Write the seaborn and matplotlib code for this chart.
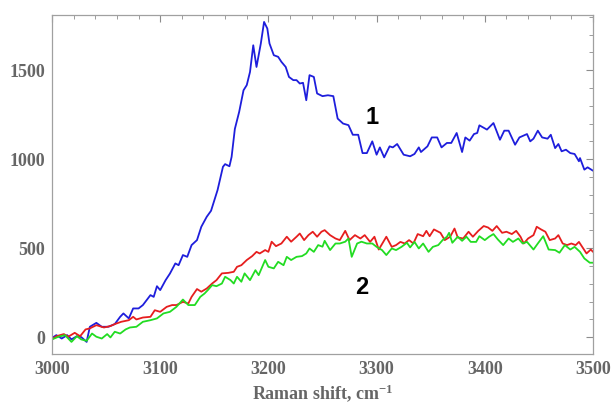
import numpy as np
import pandas as pd
import matplotlib
matplotlib.use("Agg")
import matplotlib.pyplot as plt
from matplotlib.ticker import MultipleLocator
import seaborn as sns

# spectrum 1 (blue)
blue_x = [3000, 3004, 3009, 3014, 3018, 3023, 3027, 3032, 3035, 3041, 3046, 3052, 3058, 3063,
          3066, 3071, 3075, 3080, 3084, 3091, 3094, 3097, 3100, 3105, 3109, 3114, 3117, 3121,
          3125, 3129, 3134, 3138, 3143, 3147, 3153, 3158, 3160, 3164, 3166, 3169, 3173, 3177,
          3180, 3183, 3186, 3189, 3193, 3196, 3199, 3201, 3205, 3209, 3212, 3216, 3219, 3223,
          3226, 3229, 3232, 3235, 3238, 3242, 3245, 3250, 3255, 3260, 3264, 3269, 3274, 3278,
          3283, 3287, 3291, 3296, 3300, 3303, 3307, 3312, 3315, 3319, 3325, 3331, 3335, 3339,
          3341, 3347, 3351, 3356, 3360, 3365, 3369, 3374, 3379, 3382, 3386, 3390, 3393, 3395,
          3402, 3408, 3414, 3418, 3422, 3428, 3432, 3439, 3442, 3445, 3449, 3453, 3458, 3461,
          3465, 3468, 3471, 3475, 3479, 3483, 3487, 3488, 3492, 3495, 3500]
blue_y = [-5, 11, -8, 11, -13, 5, 0, -27, 58, 80, 58, 58, 73, 114,
          133, 105, 161, 161, 180, 236, 226, 286, 264, 320, 357, 414, 404, 461,
          451, 517, 545, 620, 676, 710, 826, 957, 972, 960, 1013, 1170, 1266, 1387,
          1416, 1490, 1640, 1518, 1650, 1771, 1734, 1650, 1584, 1575, 1547, 1518, 1462, 1444,
          1444, 1425, 1429, 1331, 1472, 1462, 1369, 1354, 1359, 1354, 1228, 1200, 1191, 1137,
          1137, 1034, 1034, 1100, 1025, 1066, 1010, 1072, 1066, 1085, 1025, 1016, 1029, 1066,
          1040, 1072, 1122, 1122, 1066, 1091, 1091, 1147, 1040, 1122, 1104, 1141, 1147, 1190,
          1166, 1203, 1109, 1160, 1160, 1081, 1122, 1141, 1100, 1115, 1160, 1122, 1115, 1137,
          1062, 1085, 1044, 1053, 1034, 1029, 988, 1006, 941, 954, 935]

# spectrum 2 (red)
red_x = [3000, 3004, 3011, 3015, 3021, 3026, 3031, 3035, 3041, 3048, 3054, 3058, 3064, 3071,
         3075, 3078, 3084, 3091, 3095, 3100, 3106, 3111, 3115, 3121, 3126, 3129, 3134, 3138,
         3143, 3148, 3152, 3157, 3163, 3168, 3171, 3175, 3180, 3185, 3189, 3192, 3197, 3200,
         3203, 3207, 3212, 3217, 3221, 3226, 3229, 3233, 3237, 3241, 3245, 3249, 3252, 3257,
         3262, 3266, 3271, 3275, 3280, 3285, 3289, 3294, 3298, 3302, 3309, 3314, 3318, 3322,
         3326, 3330, 3334, 3338, 3343, 3346, 3349, 3353, 3359, 3363, 3368, 3372, 3375, 3380,
         3385, 3389, 3394, 3399, 3403, 3407, 3411, 3416, 3420, 3425, 3429, 3433, 3436, 3440,
         3445, 3448, 3452, 3456, 3460, 3465, 3468, 3472, 3476, 3480, 3484, 3487, 3491, 3494,
         3498, 3500]
red_y = [-13, 5, 17, 2, 24, 5, 43, 49, 67, 54, 62, 73, 86, 95,
         114, 99, 110, 114, 151, 142, 170, 180, 180, 198, 189, 226, 270, 255,
         273, 301, 320, 358, 361, 367, 395, 404, 433, 455, 479, 470, 489, 479,
         536, 511, 526, 564, 536, 564, 582, 545, 573, 592, 564, 592, 601, 573,
         554, 545, 597, 545, 573, 554, 573, 535, 564, 492, 564, 507, 517, 535,
         526, 545, 526, 579, 567, 597, 567, 605, 586, 545, 564, 610, 560, 554,
         592, 564, 597, 624, 616, 597, 624, 586, 592, 579, 597, 564, 526, 554,
         573, 620, 605, 592, 545, 554, 573, 526, 517, 526, 517, 535, 498, 470,
         492, 479]

# spectrum 2 (green)
green_x = [3000, 3006, 3012, 3018, 3023, 3027, 3032, 3037, 3041, 3046, 3051, 3054, 3058, 3063,
           3068, 3072, 3078, 3084, 3091, 3097, 3103, 3109, 3115, 3121, 3126, 3132, 3137, 3141,
           3144, 3148, 3152, 3157, 3160, 3165, 3168, 3171, 3175, 3178, 3183, 3188, 3191, 3197,
           3200, 3205, 3209, 3214, 3217, 3221, 3226, 3231, 3235, 3238, 3242, 3246, 3250, 3252,
           3257, 3262, 3266, 3271, 3274, 3277, 3282, 3286, 3291, 3296, 3300, 3305, 3309, 3314,
           3318, 3323, 3328, 3331, 3335, 3339, 3343, 3348, 3352, 3357, 3361, 3365, 3367, 3370,
           3375, 3379, 3383, 3387, 3392, 3395, 3400, 3404, 3408, 3412, 3417, 3422, 3426, 3431,
           3435, 3439, 3445, 3449, 3454, 3459, 3465, 3469, 3474, 3479, 3483, 3488, 3492, 3497,
           3500]
green_y = [-13, 2, 11, -27, 5, -13, -21, 20, 2, -8, 17, -2, 30, 20,
           43, 54, 58, 86, 95, 105, 133, 142, 170, 211, 180, 180, 226, 245,
           264, 292, 286, 301, 339, 320, 301, 339, 311, 358, 320, 376, 348, 433,
           395, 386, 423, 404, 451, 433, 451, 455, 470, 498, 479, 517, 508, 541,
           489, 526, 526, 536, 554, 451, 526, 536, 526, 526, 507, 489, 461, 498,
           489, 507, 530, 504, 535, 498, 526, 479, 507, 517, 545, 564, 586, 530,
           564, 541, 564, 535, 535, 567, 545, 564, 579, 549, 517, 554, 535, 554,
           526, 535, 492, 526, 567, 492, 489, 474, 517, 492, 507, 479, 442, 418,
           418]

series_names = ["blue", "red", "green"]
colors = {"blue": "#1e1edc", "red": "#e61e1e", "green": "#22dc22"}

df = pd.concat([
    pd.DataFrame({"shift": blue_x, "intensity": blue_y, "series": "blue"}),
    pd.DataFrame({"shift": red_x, "intensity": red_y, "series": "red"}),
    pd.DataFrame({"shift": green_x, "intensity": green_y, "series": "green"}),
], ignore_index=True)

sns.set_style("white")
plt.rcParams["font.family"] = ["Liberation Serif", "DejaVu Serif"]
plt.rcParams["mathtext.fontset"] = "custom"
plt.rcParams["mathtext.rm"] = "Liberation Serif:bold"
plt.rcParams["mathtext.bf"] = "Liberation Serif:bold"
plt.rcParams["mathtext.default"] = "rm"

fig = plt.figure(figsize=(6.13, 4.05), dpi=100)
ax = fig.add_axes([52 / 613, 1 - 354 / 405, 541 / 613, 339 / 405])

sns.lineplot(
    data=df, x="shift", y="intensity", hue="series", hue_order=series_names,
    palette=colors, estimator=None, sort=False, legend=False, linewidth=1.3, ax=ax
)

ax.set_xlim(3000, 3500)
ax.set_ylim(-95, 1810)
ax.xaxis.set_major_locator(MultipleLocator(100))
ax.xaxis.set_minor_locator(MultipleLocator(20))
ax.yaxis.set_major_locator(MultipleLocator(500))
ax.yaxis.set_minor_locator(MultipleLocator(100))

gray = "#8c8c8c"
for side in ax.spines.values():
    side.set_color("#a0a0a0")
    side.set_linewidth(0.9)
ax.tick_params(which="both", direction="in", top=True, right=True, color=gray)
ax.tick_params(which="major", length=5, width=0.8, labelsize=13, labelcolor="#666666", pad=5)
ax.tick_params(which="minor", length=3, width=0.6)
for lbl in ax.get_xticklabels() + ax.get_yticklabels():
    lbl.set_fontweight("bold")

ax.set_xlabel("Raman shift, cm$^{-1}$", fontsize=13, fontweight="bold",
              color="#666666", labelpad=3)
ax.set_ylabel("")

ax.text(3296, 1236, "1", fontsize=17, fontweight="bold", family="Liberation Sans",
        ha="center", va="center", color="black")
ax.text(3286, 281, "2", fontsize=17, fontweight="bold", family="Liberation Sans",
        ha="center", va="center", color="black")

fig.savefig("out.png", dpi=100)
plt.close(fig)
